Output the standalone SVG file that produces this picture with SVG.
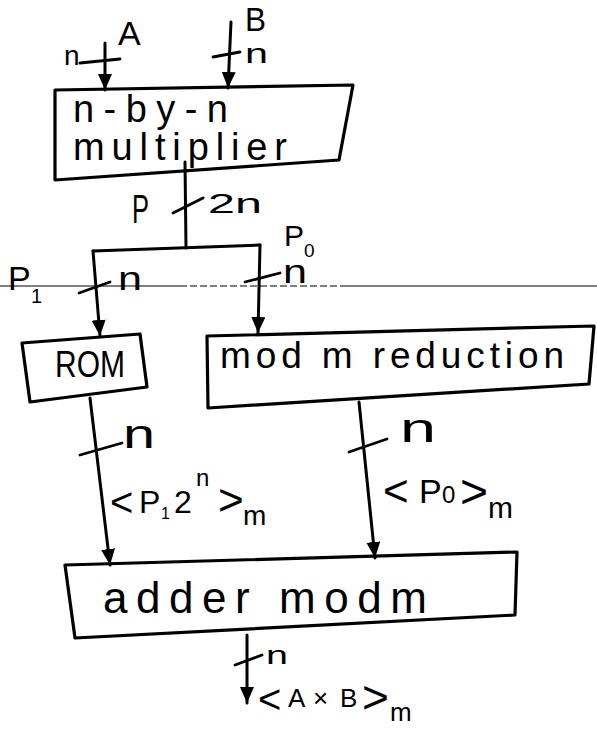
<svg xmlns="http://www.w3.org/2000/svg" width="597" height="739" viewBox="0 0 597 739">
<style>
.box{fill:none;stroke:#000;stroke-width:3.2;stroke-linejoin:round}
.ln{fill:none;stroke:#000;stroke-width:3;stroke-linecap:round}
.tk{fill:none;stroke:#000;stroke-width:2.8;stroke-linecap:round}
.thin{fill:none;stroke:#000;stroke-width:1.2}
text{font-family:"Liberation Sans","DejaVu Sans",sans-serif;fill:#000}
</style>
<defs>
<marker id="ah" viewBox="0 0 16 14" refX="16" refY="7" markerWidth="16" markerHeight="14" markerUnits="userSpaceOnUse" orient="auto">
<path d="M0,0 L16,7 L0,14 z" fill="#000"/>
</marker>
</defs>
<rect width="597" height="739" fill="#fff"/>
<line class="thin" x1="0" y1="286" x2="180" y2="286"/>
<line class="thin" x1="180" y1="286" x2="345" y2="286" stroke-dasharray="7 3"/>
<line class="thin" x1="345" y1="286" x2="597" y2="286"/>
<g id="multiplier">
<polygon class="box" points="55,90 353,85 339,160 55,180"/>
<text x="73" y="122" font-size="38" textLength="155" lengthAdjust="spacing">n-by-n</text>
<text x="73" y="160" font-size="38" textLength="214" lengthAdjust="spacing">multiplier</text>
</g>
<g id="rom">
<polygon class="box" points="22,343 140,334 147,387 30,402"/>
<text x="55" y="377" font-size="36" textLength="70" lengthAdjust="spacingAndGlyphs">ROM</text>
</g>
<g id="modred">
<polygon class="box" points="207,336 594,326 589,384 208,408"/>
<text x="220" y="368" font-size="37" textLength="344" lengthAdjust="spacing">mod m reduction</text>
</g>
<g id="adder">
<polygon class="box" points="65,565 517,552 515,615 75,638"/>
<text x="103" y="613" font-size="44" textLength="324" lengthAdjust="spacing">adder modm</text>
</g>
<g id="connectors">
<line class="ln" x1="105" y1="43" x2="105" y2="90" marker-end="url(#ah)"/>
<line class="tk" x1="80" y1="63" x2="120" y2="59"/>
<line class="ln" x1="231" y1="22" x2="228" y2="88" marker-end="url(#ah)"/>
<line class="tk" x1="213" y1="57" x2="240" y2="52"/>
<line class="ln" x1="185" y1="162" x2="186" y2="248"/>
<line class="tk" x1="173" y1="213" x2="203" y2="198"/>
<line class="ln" x1="93" y1="251" x2="260" y2="245"/>
<line class="ln" x1="93" y1="251" x2="100" y2="336" marker-end="url(#ah)"/>
<line class="tk" x1="79" y1="293" x2="110" y2="282"/>
<line class="ln" x1="260" y1="245" x2="258" y2="333" marker-end="url(#ah)"/>
<line class="tk" x1="245" y1="282" x2="280" y2="273"/>
<line class="ln" x1="90" y1="398" x2="110" y2="565" marker-end="url(#ah)"/>
<line class="tk" x1="80" y1="455" x2="122" y2="443"/>
<line class="ln" x1="359" y1="402" x2="375" y2="558" marker-end="url(#ah)"/>
<line class="tk" x1="349" y1="452" x2="387" y2="439"/>
<line class="ln" x1="247" y1="635" x2="247" y2="703" marker-end="url(#ah)"/>
<line class="tk" x1="235" y1="665" x2="262" y2="655"/>
</g>
<g id="labels">
<text x="118" y="45" font-size="34">A</text>
<text x="64" y="65" font-size="28">n</text>
<text x="245" y="31" font-size="34" textLength="21" lengthAdjust="spacingAndGlyphs">B</text>
<text x="245" y="63" font-size="28" textLength="23" lengthAdjust="spacingAndGlyphs">n</text>
<text x="132" y="223" font-size="40" textLength="17" lengthAdjust="spacingAndGlyphs">P</text>
<text x="208" y="213" font-size="28" textLength="54" lengthAdjust="spacingAndGlyphs">2n</text>
<text x="284" y="246" font-size="30">P<tspan x="304" y="257" font-size="19">0</tspan></text>
<text x="283" y="283" font-size="34" textLength="24" lengthAdjust="spacingAndGlyphs">n</text>
<text x="8" y="290" font-size="34">P<tspan x="31" y="303" font-size="20">1</tspan></text>
<text x="118" y="290" font-size="34" textLength="24" lengthAdjust="spacingAndGlyphs">n</text>
<text x="123" y="448" font-size="40" textLength="32" lengthAdjust="spacingAndGlyphs">n</text>
<text x="400" y="442" font-size="40" textLength="36" lengthAdjust="spacingAndGlyphs">n</text>
<text x="110" y="516" font-size="40">&lt;<tspan x="139" y="513" font-size="32">P</tspan><tspan x="161" y="519" font-size="16">1</tspan><tspan x="174" y="513" font-size="32">2</tspan><tspan x="196" y="486" font-size="24">n</tspan><tspan x="218" y="515" font-size="44">&gt;</tspan><tspan x="243" y="525" font-size="28">m</tspan></text>
<text x="383" y="506" font-size="44">&lt;<tspan x="419" y="503" font-size="34">P</tspan><tspan x="442" y="503" font-size="24">0</tspan><tspan x="460" y="508" font-size="48">&gt;</tspan><tspan x="488" y="518" font-size="30">m</tspan></text>
<text x="266" y="664" font-size="26" textLength="22" lengthAdjust="spacingAndGlyphs">n</text>
<text x="258" y="713" font-size="40">&lt;<tspan x="288" y="707" font-size="26">A</tspan><tspan x="313" y="707" font-size="26">×</tspan><tspan x="340" y="707" font-size="26">B</tspan><tspan x="362" y="713" font-size="46">&gt;</tspan><tspan x="390" y="721" font-size="26">m</tspan></text>
</g>
</svg>
